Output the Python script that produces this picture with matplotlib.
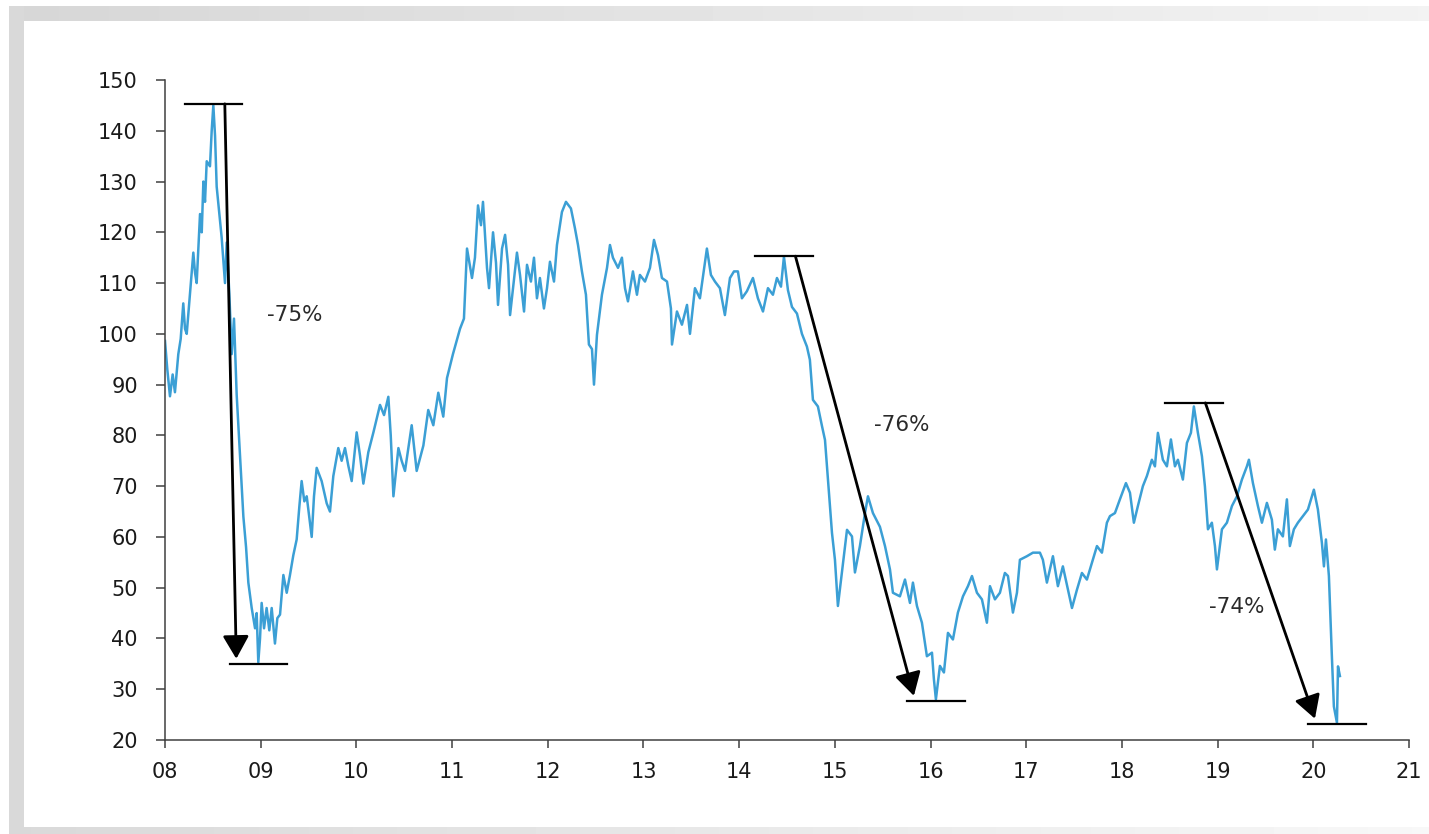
import matplotlib.pyplot as plt
import numpy as np
from matplotlib.patches import Rectangle

plt.rcParams['font.family'] = ['DejaVu Sans']

# Brent price (decimal year, USD/bbl)
dates = [
    2008.000, 2008.024, 2008.052, 2008.080, 2008.104, 2008.139, 2008.164, 2008.191, 2008.209, 2008.227,
    2008.261, 2008.296, 2008.314, 2008.331, 2008.366, 2008.384, 2008.401, 2008.418, 2008.436, 2008.470,
    2008.488, 2008.505, 2008.523, 2008.540, 2008.592, 2008.627, 2008.645, 2008.672, 2008.697, 2008.721,
    2008.749, 2008.784, 2008.819, 2008.847, 2008.871, 2008.906, 2008.941, 2008.958, 2008.975, 2008.993,
    2009.010, 2009.035, 2009.062, 2009.090, 2009.115, 2009.149, 2009.174, 2009.202, 2009.237, 2009.272,
    2009.306, 2009.341, 2009.376, 2009.404, 2009.428, 2009.456, 2009.481, 2009.533, 2009.557, 2009.585,
    2009.637, 2009.690, 2009.724, 2009.759, 2009.811, 2009.846, 2009.881, 2009.916, 2009.951, 2010.003,
    2010.038, 2010.073, 2010.125, 2010.178, 2010.247, 2010.289, 2010.334, 2010.359, 2010.387, 2010.439,
    2010.473, 2010.508, 2010.578, 2010.630, 2010.700, 2010.751, 2010.804, 2010.856, 2010.908, 2010.947,
    2011.009, 2011.083, 2011.124, 2011.156, 2011.208, 2011.239, 2011.271, 2011.302, 2011.323, 2011.365,
    2011.386, 2011.428, 2011.459, 2011.480, 2011.522, 2011.554, 2011.585, 2011.606, 2011.637, 2011.678,
    2011.710, 2011.752, 2011.783, 2011.824, 2011.856, 2011.887, 2011.918, 2011.960, 2011.992, 2012.023,
    2012.065, 2012.096, 2012.148, 2012.190, 2012.242, 2012.284, 2012.316, 2012.357, 2012.399, 2012.430,
    2012.462, 2012.483, 2012.514, 2012.566, 2012.619, 2012.650, 2012.681, 2012.734, 2012.775, 2012.807,
    2012.838, 2012.890, 2012.932, 2012.963, 2013.016, 2013.068, 2013.110, 2013.152, 2013.193, 2013.246,
    2013.287, 2013.298, 2013.350, 2013.402, 2013.455, 2013.486, 2013.538, 2013.590, 2013.663, 2013.705,
    2013.747, 2013.799, 2013.851, 2013.904, 2013.946, 2013.987, 2014.029, 2014.081, 2014.144, 2014.196,
    2014.249, 2014.301, 2014.353, 2014.395, 2014.437, 2014.468, 2014.510, 2014.552, 2014.604, 2014.656,
    2014.708, 2014.739, 2014.771, 2014.823, 2014.866, 2014.897, 2014.928, 2014.970, 2015.001, 2015.032,
    2015.074, 2015.127, 2015.179, 2015.210, 2015.262, 2015.315, 2015.346, 2015.398, 2015.471, 2015.524,
    2015.576, 2015.607, 2015.680, 2015.733, 2015.785, 2015.816, 2015.858, 2015.910, 2015.962, 2016.015,
    2016.035, 2016.056, 2016.098, 2016.140, 2016.182, 2016.234, 2016.286, 2016.339, 2016.391, 2016.433,
    2016.485, 2016.537, 2016.589, 2016.621, 2016.673, 2016.725, 2016.777, 2016.809, 2016.861, 2016.903,
    2016.934, 2017.007, 2017.070, 2017.143, 2017.174, 2017.216, 2017.279, 2017.331, 2017.383, 2017.436,
    2017.478, 2017.530, 2017.582, 2017.634, 2017.687, 2017.739, 2017.791, 2017.843, 2017.875, 2017.927,
    2017.979, 2018.042, 2018.084, 2018.125, 2018.167, 2018.219, 2018.261, 2018.313, 2018.345, 2018.376,
    2018.428, 2018.470, 2018.512, 2018.554, 2018.585, 2018.637, 2018.679, 2018.721, 2018.752, 2018.794,
    2018.836, 2018.867, 2018.899, 2018.940, 2018.972, 2018.993, 2019.045, 2019.097, 2019.150, 2019.202,
    2019.254, 2019.306, 2019.327, 2019.369, 2019.421, 2019.463, 2019.515, 2019.567, 2019.598, 2019.630,
    2019.682, 2019.724, 2019.755, 2019.797, 2019.839, 2019.891, 2019.944, 2020.006, 2020.048, 2020.090,
    2020.111, 2020.132, 2020.163, 2020.194, 2020.215, 2020.247, 2020.258, 2020.278,
]
brent = [
    98.6, 93.0, 87.7, 92.0, 88.5, 96.0, 99.0, 106.0, 101.0, 100.0,
    108.0, 116.0, 112.0, 110.0, 123.6, 120.0, 130.0, 126.0, 134.0, 133.0,
    140.0, 145.0, 139.0, 129.0, 119.0, 110.0, 118.0, 108.0, 96.0, 103.0,
    88.0, 76.0, 64.0, 58.0, 51.0, 46.0, 42.0, 45.0, 35.3, 40.0,
    47.0, 42.0, 46.0, 41.6, 46.0, 39.0, 44.0, 44.7, 52.5, 49.0,
    52.5, 56.4, 59.5, 66.0, 71.0, 67.0, 68.0, 60.0, 68.0, 73.6,
    71.0, 66.6, 65.0, 72.0, 77.5, 75.0, 77.5, 74.0, 71.0, 80.6,
    76.0, 70.5, 76.7, 80.6, 86.0, 84.0, 87.6, 80.0, 68.0, 77.5,
    75.0, 73.0, 82.0, 73.0, 78.0, 85.0, 82.0, 88.4, 83.7, 91.3,
    96.0, 101.0, 103.0, 116.8, 111.0, 115.0, 125.3, 121.4, 126.0, 113.0,
    109.0, 120.0, 114.0, 105.7, 116.8, 119.5, 113.6, 103.7, 109.0, 116.0,
    111.6, 104.4, 113.6, 110.3, 115.0, 107.0, 111.0, 105.0, 109.0, 114.2,
    110.3, 117.5, 124.0, 126.0, 124.7, 120.8, 117.5, 112.3, 107.7, 97.9,
    97.0, 90.0, 99.8, 107.7, 113.0, 117.5, 115.0, 113.0, 115.0, 109.0,
    106.4, 112.3, 107.7, 111.6, 110.3, 113.0, 118.5, 115.5, 111.0, 110.3,
    105.0, 97.9, 104.4, 101.8, 105.7, 100.0, 109.0, 107.0, 116.8, 111.6,
    110.3, 109.0, 103.7, 111.0, 112.3, 112.3, 107.0, 108.4, 111.0, 107.0,
    104.4, 109.0, 107.7, 111.0, 109.3, 115.2, 108.6, 105.3, 104.0, 100.0,
    97.5, 94.9, 87.0, 85.7, 81.8, 79.1, 71.3, 60.8, 55.5, 46.4,
    53.0, 61.4, 60.1, 53.0, 58.2, 64.7, 68.0, 64.7, 62.0, 58.2,
    53.6, 49.0, 48.3, 51.6, 47.0, 51.0, 46.4, 43.1, 36.5, 37.2,
    32.0, 28.0, 34.6, 33.3, 41.1, 39.8, 45.1, 48.3, 50.3, 52.3,
    49.0, 47.7, 43.1, 50.3, 47.7, 49.0, 52.9, 52.3, 45.1, 49.0,
    55.5, 56.2, 56.9, 56.9, 55.5, 51.0, 56.2, 50.3, 54.2, 49.6,
    46.0, 49.6, 52.9, 51.6, 54.9, 58.2, 56.9, 62.8, 64.1, 64.7,
    67.4, 70.6, 68.7, 62.8, 66.1, 70.0, 72.0, 75.2, 73.9, 80.5,
    75.2, 73.9, 79.2, 73.9, 75.2, 71.3, 78.5, 80.5, 85.7, 80.5,
    75.9, 70.0, 61.5, 62.8, 58.2, 53.6, 61.5, 62.8, 66.1, 68.0,
    71.3, 73.9, 75.2, 70.6, 66.1, 62.8, 66.7, 63.4, 57.5, 61.5,
    60.1, 67.4, 58.2, 61.5, 62.8, 64.1, 65.4, 69.3, 65.4, 58.8,
    54.2, 59.5, 52.3, 36.5, 26.6, 23.4, 34.5, 32.6,
]

# Peak-to-trough annotations
peak_dates = [2008.505, 2014.468, 2018.752]
peak_vals = [145.3, 115.3, 86.4]
trough_dates = [2008.975, 2016.056, 2020.247]
trough_vals = [35.0, 27.7, 23.2]
drop_labels = ['-75%', '-76%', '-74%']
label_x = [2009.36, 2015.70, 2019.20]
label_y = [103.7, 82.0, 46.2]

year_ticks = list(range(2008, 2022))
year_labels = ['%02d' % (y % 100) for y in year_ticks]
value_ticks = list(range(20, 151, 10))

W, H = 1429, 834
fig = plt.figure(figsize=(W / 100, H / 100), dpi=100)

# grey frame around the picture
bg = fig.add_axes([0, 0, 1, 1], zorder=-5)
bg.axis('off')
bg.imshow(np.linspace(0.84, 0.95, 256).reshape(1, -1), cmap='gray', vmin=0, vmax=1,
          extent=(9, W, 21, 6), aspect='auto')
bg.imshow(np.linspace(0.85, 0.97, 256).reshape(1, -1), cmap='gray', vmin=0, vmax=1,
          extent=(9, W, H, 827), aspect='auto')
bg.add_patch(Rectangle((9, 6), 15, H - 6, color='#d9d9d9', lw=0))
bg.set_xlim(0, W)
bg.set_ylim(H, 0)

ax = fig.add_axes([165 / W, 1 - 740 / H, (1409 - 165) / W, 660 / H])
ax.plot(dates, brent, color='#3b9fd5', lw=1.8)

for px, pv, tx, tv in zip(peak_dates, peak_vals, trough_dates, trough_vals):
    ax.plot([px - 0.3, px + 0.3], [pv, pv], color='black', lw=1.6)
    ax.plot([tx - 0.3, tx + 0.3], [tv, tv], color='black', lw=1.6)
    ax.annotate('', xy=(tx - 0.23, tv + 1.0), xytext=(px + 0.12, pv),
                arrowprops=dict(arrowstyle='-|>,head_length=0.7,head_width=0.4',
                                color='black', lw=2, mutation_scale=20,
                                shrinkA=0, shrinkB=0))

for lx, ly, lab in zip(label_x, label_y, drop_labels):
    ax.text(lx, ly, lab, ha='center', va='center', fontsize=15.5, color='#2a2a2a')

ax.set_xlim(2008, 2021)
ax.set_ylim(20, 150)
ax.set_xticks(year_ticks)
ax.set_xticklabels(year_labels)
ax.set_yticks(value_ticks)
ax.spines['top'].set_visible(False)
ax.spines['right'].set_visible(False)
for s in ['left', 'bottom']:
    ax.spines[s].set_color('#404040')
    ax.spines[s].set_linewidth(1.1)
ax.tick_params(axis='y', direction='out', length=6.5, width=1.1, color='#404040',
               pad=13, labelsize=15, labelcolor='#1a1a1a')
ax.tick_params(axis='x', direction='out', length=5.5, width=1.1, color='#404040',
               pad=10, labelsize=15, labelcolor='#1a1a1a')

fig.savefig('out.png', dpi=100)
